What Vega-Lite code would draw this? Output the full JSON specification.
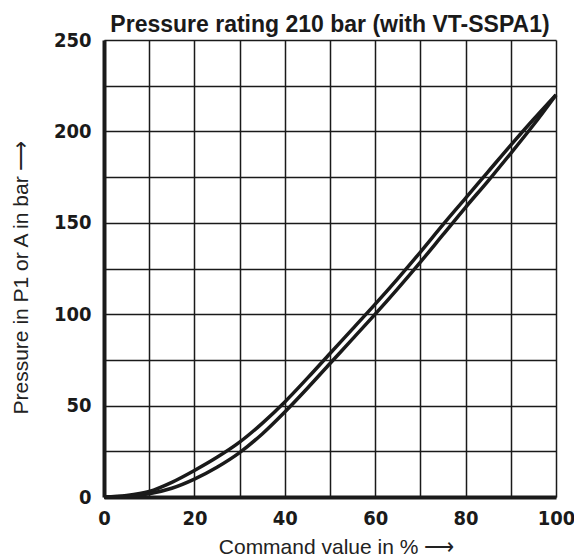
{
  "$schema": "https://vega.github.io/schema/vega-lite/v6.json",
  "autosize": {"type": "none"},
  "width": 452,
  "height": 457,
  "padding": {"left": 104, "top": 40, "right": 18, "bottom": 62},
  "background": "white",
  "title": {
    "text": "Pressure rating 210 bar (with VT-SSPA1)",
    "font": "Liberation Sans",
    "fontSize": 23,
    "fontWeight": "bold",
    "color": "#1a1a1a",
    "anchor": "middle",
    "offset": -7
  },
  "config": {
    "view": {"stroke": null},
    "axis": {
      "gridColor": "#1a1a1a",
      "gridWidth": 1.5,
      "gridOpacity": 1,
      "domainColor": "#1a1a1a",
      "domainWidth": 4,
      "ticks": false,
      "labelFont": "DejaVu Sans Condensed",
      "labelFontWeight": "bold",
      "labelFontSize": 20,
      "labelColor": "#1a1a1a",
      "titleFont": "Liberation Sans",
      "titleFontWeight": "normal",
      "titleFontSize": 21,
      "titleColor": "#222222"
    }
  },
  "data": {
    "values": [
      {"cmd": 0, "p": 0, "s": "upper"},
      {"cmd": 5, "p": 0.8, "s": "upper"},
      {"cmd": 10, "p": 3, "s": "upper"},
      {"cmd": 15, "p": 8, "s": "upper"},
      {"cmd": 20, "p": 14.5, "s": "upper"},
      {"cmd": 25, "p": 21.7, "s": "upper"},
      {"cmd": 30, "p": 30, "s": "upper"},
      {"cmd": 35, "p": 40.3, "s": "upper"},
      {"cmd": 40, "p": 52, "s": "upper"},
      {"cmd": 45, "p": 65, "s": "upper"},
      {"cmd": 50, "p": 78.5, "s": "upper"},
      {"cmd": 55, "p": 92, "s": "upper"},
      {"cmd": 60, "p": 105.5, "s": "upper"},
      {"cmd": 65, "p": 119.5, "s": "upper"},
      {"cmd": 70, "p": 134, "s": "upper"},
      {"cmd": 75, "p": 149, "s": "upper"},
      {"cmd": 80, "p": 163.5, "s": "upper"},
      {"cmd": 85, "p": 178, "s": "upper"},
      {"cmd": 90, "p": 192.5, "s": "upper"},
      {"cmd": 95, "p": 206.5, "s": "upper"},
      {"cmd": 100, "p": 220, "s": "upper"},
      {"cmd": 0, "p": 0, "s": "lower"},
      {"cmd": 5, "p": 0.4, "s": "lower"},
      {"cmd": 10, "p": 1.8, "s": "lower"},
      {"cmd": 15, "p": 4.8, "s": "lower"},
      {"cmd": 20, "p": 9.8, "s": "lower"},
      {"cmd": 25, "p": 16.3, "s": "lower"},
      {"cmd": 30, "p": 24.3, "s": "lower"},
      {"cmd": 35, "p": 34.5, "s": "lower"},
      {"cmd": 40, "p": 46.5, "s": "lower"},
      {"cmd": 45, "p": 59.5, "s": "lower"},
      {"cmd": 50, "p": 73, "s": "lower"},
      {"cmd": 55, "p": 86.5, "s": "lower"},
      {"cmd": 60, "p": 100, "s": "lower"},
      {"cmd": 65, "p": 114, "s": "lower"},
      {"cmd": 70, "p": 128.5, "s": "lower"},
      {"cmd": 75, "p": 143.5, "s": "lower"},
      {"cmd": 80, "p": 158.5, "s": "lower"},
      {"cmd": 85, "p": 173, "s": "lower"},
      {"cmd": 90, "p": 188, "s": "lower"},
      {"cmd": 95, "p": 203.5, "s": "lower"},
      {"cmd": 100, "p": 220, "s": "lower"}
    ]
  },
  "mark": {"type": "line", "color": "#1a1a1a", "strokeWidth": 3.5, "interpolate": "monotone", "clip": false},
  "encoding": {
    "x": {
      "field": "cmd",
      "type": "quantitative",
      "scale": {"domain": [0, 100], "nice": false, "zero": false},
      "axis": {
        "values": [0, 10, 20, 30, 40, 50, 60, 70, 80, 90, 100],
        "labelExpr": "datum.value % 20 == 0 ? datum.label : ''",
        "labelPadding": 11,
        "labelFlush": false,
        "title": "Command value in % ⟶",
        "titleX": 232,
        "titleY": 50,
        "titleBaseline": "middle",
        "titleAnchor": "middle"
      }
    },
    "y": {
      "field": "p",
      "type": "quantitative",
      "scale": {"domain": [0, 250], "nice": false},
      "axis": {
        "values": [0, 25, 50, 75, 100, 125, 150, 175, 200, 225, 250],
        "labelExpr": "datum.value % 50 == 0 ? datum.label : ''",
        "labelPadding": 13,
        "labelFlush": false,
        "title": "Pressure in P1 or A in bar ⟶",
        "titleX": -83,
        "titleY": 237,
        "titleBaseline": "middle",
        "titleAnchor": "middle",
        "titleAngle": -90
      }
    },
    "detail": {"field": "s", "type": "nominal"}
  }
}
